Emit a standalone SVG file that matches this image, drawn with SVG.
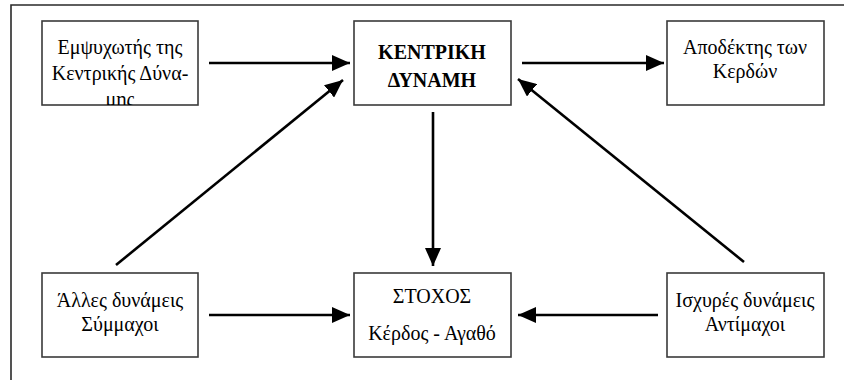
<svg xmlns="http://www.w3.org/2000/svg" width="844" height="380" viewBox="0 0 844 380">
<style>
.box{fill:#fff;stroke:#3a3a3a;stroke-width:1.6}
.t{font-family:'Liberation Serif','Times New Roman','Noto Serif','DejaVu Serif','FreeSerif',serif;font-size:20px;fill:#000;text-anchor:middle}
.b{font-weight:bold}
.c{stroke:#000;stroke-width:2.6;fill:none;marker-end:url(#ah)}
.frame{stroke:#2a2a2a;stroke-width:1.6;fill:none}
</style>
<defs>
<marker id="ah" markerUnits="userSpaceOnUse" markerWidth="20" markerHeight="16" refX="18" refY="8" orient="auto">
<path d="M0,0 L18,8 L0,16 Z" fill="#000"/>
</marker>
<clipPath id="clip1"><rect x="42" y="21" width="156" height="84"/></clipPath>
</defs>
<rect width="844" height="380" fill="#fff"/>
<path class="frame" d="M11,380 V5 H844"/>
<g id="n-empsychotis">
<rect class="box" x="42" y="21" width="156" height="84"/>
<g clip-path="url(#clip1)">
<text class="t" x="120" y="54">Εμψυχωτής της</text>
<text class="t" x="120" y="80">Κεντρικής Δύνα-</text>
<text class="t" x="120" y="106">μης</text>
</g>
</g>
<g id="n-kentriki">
<rect class="box" x="354" y="21" width="157" height="84"/>
<text class="t b" x="432" y="59">ΚΕΝΤΡΙΚΗ</text>
<text class="t b" x="432" y="87">ΔΥΝΑΜΗ</text>
</g>
<g id="n-apodektis">
<rect class="box" x="667" y="21" width="157" height="84"/>
<text class="t" x="745" y="54">Αποδέκτης των</text>
<text class="t" x="745" y="78">Κερδών</text>
</g>
<g id="n-alles">
<rect class="box" x="42" y="273" width="156" height="84"/>
<text class="t" x="120" y="307">Άλλες δυνάμεις</text>
<text class="t" x="120" y="331">Σύμμαχοι</text>
</g>
<g id="n-stoxos">
<rect class="box" x="354" y="273" width="157" height="84"/>
<text class="t" x="432" y="303">ΣΤΟΧΟΣ</text>
<text class="t" x="432" y="340">Κέρδος - Αγαθό</text>
</g>
<g id="n-isxyres">
<rect class="box" x="667" y="273" width="157" height="84"/>
<text class="t" x="745" y="307">Ισχυρές δυνάμεις</text>
<text class="t" x="745" y="331">Αντίμαχοι</text>
</g>
<g id="connectors">
<line class="c" x1="209" y1="63" x2="350" y2="63"/>
<line class="c" x1="522" y1="63" x2="664" y2="63"/>
<line class="c" x1="433" y1="112" x2="433" y2="266"/>
<line class="c" x1="116" y1="265" x2="343" y2="80"/>
<line class="c" x1="744" y1="262" x2="518" y2="79"/>
<line class="c" x1="209" y1="315" x2="350" y2="315"/>
<line class="c" x1="658" y1="315" x2="518" y2="315"/>
</g>
</svg>
